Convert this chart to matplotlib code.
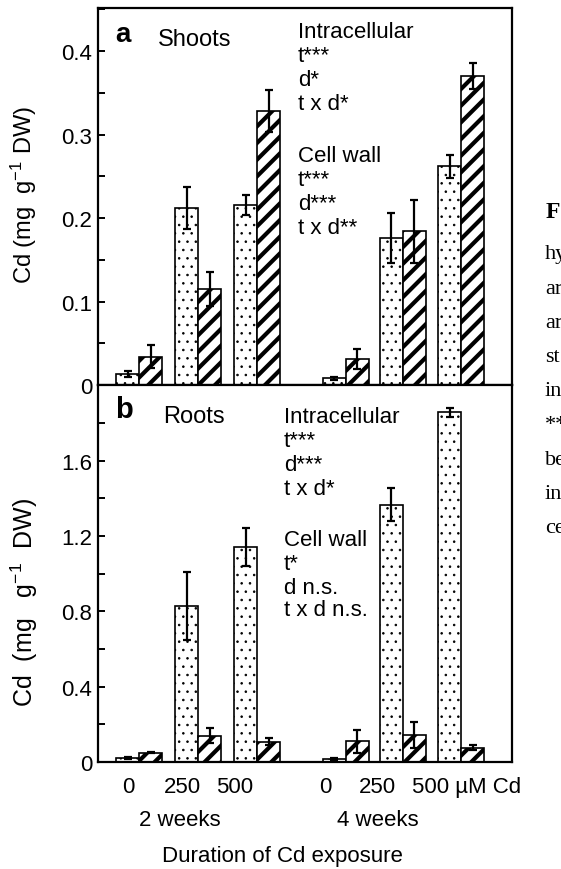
import matplotlib
matplotlib.use('Agg')
import matplotlib.pyplot as plt
import numpy as np
from matplotlib.ticker import FixedLocator, FuncFormatter

plt.rcParams['font.family'] = 'Liberation Sans'
plt.rcParams['mathtext.fontset'] = 'custom'
plt.rcParams['mathtext.rm'] = 'Liberation Sans'
plt.rcParams['mathtext.it'] = 'Liberation Sans:italic'

doses = ['0', '250', '500']
weeks = ['2 weeks', '4 weeks']

# values in mg/g DW: 2 weeks 0/250/500, then 4 weeks 0/250/500
shoot_intra = [0.013, 0.212, 0.216, 0.008, 0.176, 0.262]
shoot_intra_err = [0.004, 0.025, 0.012, 0.002, 0.030, 0.014]
shoot_wall = [0.034, 0.115, 0.328, 0.031, 0.184, 0.370]
shoot_wall_err = [0.014, 0.020, 0.025, 0.012, 0.038, 0.016]

root_intra = [0.019, 0.827, 1.144, 0.016, 1.366, 1.858]
root_intra_err = [0.005, 0.18, 0.10, 0.005, 0.088, 0.024]
root_wall = [0.050, 0.140, 0.108, 0.110, 0.143, 0.076]
root_wall_err = [0.004, 0.040, 0.020, 0.060, 0.067, 0.013]

shoot_ticks = [0, 0.1, 0.2, 0.3, 0.4]
root_ticks = [0, 0.4, 0.8, 1.2, 1.6]

shoot_stats = ['Intracellular', 't***', 'd*', 't x d*', '', 'Cell wall', 't***', 'd***', 't x d**']
root_stats = ['Intracellular', 't***', 'd***', 't x d*', '', 'Cell wall', 't*', 'd n.s.', 't x d n.s.']

caption = ['hy', 'ar', 'ar', 'st', 'in', '**', 'be', 'in', 'ce']

W, H = 561, 870
fig = plt.figure(figsize=(W / 100, H / 100), dpi=100)

def fx(px):
    return px / W

def fy(py):
    return 1 - py / H

x = np.array([0, 1, 2, 3.5, 4.47, 5.46])
w = 0.39

ax1 = fig.add_axes([fx(98), fy(386), fx(512) - fx(98), fy(9) - fy(386)])
ax2 = fig.add_axes([fx(98), fy(763), fx(512) - fx(98), fy(386) - fy(763)])


def draw(ax, intra, intra_err, wall, wall_err, ticks, fmt):
    with plt.rc_context({'hatch.linewidth': 0.6}):
        b1 = ax.bar(x - w / 2, intra, w, color='white', edgecolor='black',
                    hatch='..', linewidth=1.2, zorder=2)
    with plt.rc_context({'hatch.linewidth': 3.0}):
        b2 = ax.bar(x + w / 2, wall, w, color='white', edgecolor='black',
                    hatch='//', linewidth=1.2, zorder=2)
    for p in b1:
        if hasattr(p, 'set_hatch_linewidth'):
            p.set_hatch_linewidth(0.6)
    for p in b2:
        if hasattr(p, 'set_hatch_linewidth'):
            p.set_hatch_linewidth(3.0)
    ax.errorbar(x - w / 2, intra, yerr=intra_err, fmt='none', ecolor='black',
                elinewidth=1.6, capsize=3, capthick=1.6, zorder=3)
    ax.errorbar(x + w / 2, wall, yerr=wall_err, fmt='none', ecolor='black',
                elinewidth=1.6, capsize=3, capthick=1.6, zorder=3)
    ax.set_xlim(-0.695, 6.32)
    ax.set_xticks([])
    step = ticks[1] - ticks[0]
    ax.yaxis.set_major_locator(FixedLocator(ticks))
    ax.yaxis.set_minor_locator(FixedLocator([t + step / 2 for t in ticks]))
    ax.yaxis.set_major_formatter(FuncFormatter(fmt))
    for s in ax.spines.values():
        s.set_linewidth(1.6)
    ax.tick_params(axis='y', which='both', direction='in', length=5, width=1.4,
                   labelsize=16, pad=4)


draw(ax1, shoot_intra, shoot_intra_err, shoot_wall, shoot_wall_err, shoot_ticks,
     lambda v, p: '0' if abs(v) < 1e-9 else '%.1f' % v)
draw(ax2, root_intra, root_intra_err, root_wall, root_wall_err, root_ticks,
     lambda v, p: '0' if abs(v) < 1e-9 else '%.1f' % v)
ax1.set_ylim(0, 0.4515)
ax2.set_ylim(0, 2.003)

fig.text(fx(24), fy(195), r'Cd (mg  g$^{-1}$ DW)', rotation=90, ha='center', va='center', fontsize=17)
fig.text(fx(24), fy(603), r'Cd  (mg   g$^{-1}$  DW)', rotation=90, ha='center', va='center', fontsize=18)

# panel labels
fig.text(fx(115), fy(35), 'a', fontsize=20, fontweight='bold', va='center')
fig.text(fx(158), fy(40), 'Shoots', fontsize=17, va='center')
fig.text(fx(115), fy(410), 'b', fontsize=21, fontweight='bold', va='center')
fig.text(fx(163), fy(417), 'Roots', fontsize=17, va='center')

# statistics
top_rows = [32, 56, 81, 105, 130, 157, 181, 205, 229]
bot_rows = [418, 442, 466, 490, 515, 541, 565, 588, 611]
for s, r in zip(shoot_stats, top_rows):
    fig.text(fx(298), fy(r), s, fontsize=16, va='center')
for s, r in zip(root_stats, bot_rows):
    fig.text(fx(284), fy(r), s, fontsize=16, va='center')

# x labels
tick_px = [128, 182, 235, 325, 377]
for px, lab in zip(tick_px, doses + doses[:2]):
    fig.text(fx(px), fy(788), lab, fontsize=16, ha='center', va='center')
fig.text(fx(412), fy(788), doses[2] + ' µM Cd', fontsize=16, ha='left', va='center')
fig.text(fx(180), fy(821), weeks[0], fontsize=16, ha='center', va='center')
fig.text(fx(378), fy(821), weeks[1], fontsize=16, ha='center', va='center')
fig.text(fx(282), fy(857), 'Duration of Cd exposure', fontsize=16, ha='center', va='center')

# cropped caption text at right edge
fig.text(fx(546), fy(212), 'F', fontsize=17, fontweight='bold', family='Liberation Serif', va='center')
for i, s in enumerate(caption):
    fig.text(fx(545), fy(255 + i * 34.2), s, fontsize=16, family='Liberation Serif', va='center')

fig.savefig('out.png', dpi=100)
